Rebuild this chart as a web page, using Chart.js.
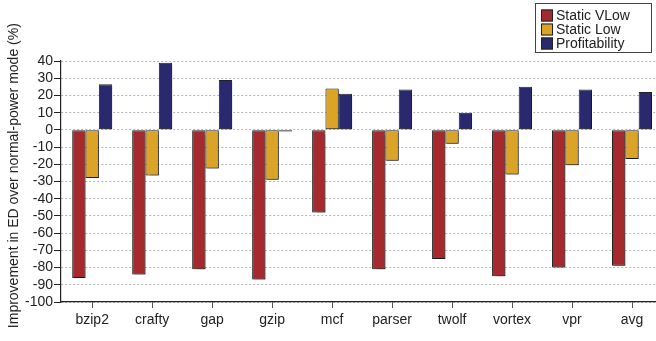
<!DOCTYPE html>
<html>
<head>
<meta charset="utf-8">
<script src="https://cdn.jsdelivr.net/npm/chart.js@4"></script>
<style>
  html, body { margin: 0; padding: 0; background: #fff; }
  canvas { display: block; }
</style>
</head>
<body>
<canvas id="c" width="656" height="341"></canvas>
<script>
// Benchmarks along the x axis
const categories = ['bzip2', 'crafty', 'gap', 'gzip', 'mcf', 'parser', 'twolf', 'vortex', 'vpr', 'avg'];

// Improvement in ED (%) per benchmark
const staticVLow     = [-86, -84, -81, -87, -48, -81, -75, -85, -80, -79];
const staticLow      = [-28, -26.5, -22.5, -29, 24, -18, -8, -26, -20.5, -17];
const profitability  = [26.5, 39, 29, -1, 21, 23.5, 10, 25, 23.5, 22];

const seriesNames  = ['Static VLow', 'Static Low', 'Profitability'];
const seriesColors = ['#a6292d', '#dba426', '#29296f'];

const yTicks = { min: -100, max: 40, step: 10 };

const FONT = '"Liberation Sans", Arial, Helvetica, sans-serif';

const toPoints = arr => arr.map((v, i) => ({ x: i, y: v }));

// soft drop shadow under the bars
const barShadow = {
  id: 'barShadow',
  beforeDatasetsDraw(chart) {
    const ctx = chart.ctx;
    ctx.save();
    ctx.shadowColor = 'rgba(0,0,0,0.35)';
    ctx.shadowOffsetX = 1.5;
    ctx.shadowOffsetY = 1.5;
    ctx.shadowBlur = 1;
  },
  afterDatasetsDraw(chart) {
    chart.ctx.restore();
  }
};

// boxed legend in the top-right corner
const boxLegend = {
  id: 'boxLegend',
  afterDraw(chart) {
    const ctx = chart.ctx;
    ctx.save();
    ctx.strokeStyle = '#444';
    ctx.lineWidth = 1;
    ctx.strokeRect(535.5, 3.5, 116, 49);
    ctx.font = '14px ' + FONT;
    ctx.textBaseline = 'middle';
    chart.data.datasets.forEach((ds, i) => {
      const cy = 15.5 + i * 14;
      ctx.fillStyle = ds.backgroundColor;
      ctx.fillRect(541, cy - 6, 12, 12);
      ctx.strokeStyle = '#222';
      ctx.strokeRect(541.5, cy - 5.5, 11, 11);
      ctx.fillStyle = '#222';
      ctx.fillText(ds.label, 556, cy + 0.5);
    });
    ctx.restore();
  }
};

const datasets = [staticVLow, staticLow, profitability].map((arr, i) => ({
  label: seriesNames[i],
  data: toPoints(arr),
  backgroundColor: seriesColors[i],
  borderColor: '#222',
  borderWidth: 1,
  borderSkipped: false,
  categoryPercentage: 0.667,
  barPercentage: 1.0
}));

new Chart(document.getElementById('c'), {
  type: 'bar',
  data: { datasets },
  plugins: [barShadow, boxLegend],
  options: {
    responsive: false,
    animation: false,
    devicePixelRatio: 1,
    layout: { padding: { top: 61, right: 0, bottom: 0, left: 0 } },
    plugins: {
      legend: { display: false },
      tooltip: { enabled: false }
    },
    scales: {
      x: {
        type: 'linear',
        offset: false,
        min: -0.52,
        max: 9.4,
        afterBuildTicks(scale) {
          scale.ticks = categories.map((_, i) => ({ value: i }));
        },
        afterFit(scale) { scale.height = 39; },
        ticks: {
          callback: v => categories[v],
          font: { family: FONT, size: 14 },
          color: '#222',
          padding: 4,
          maxRotation: 0,
          autoSkip: false
        },
        grid: {
          offset: false,
          drawOnChartArea: false,
          drawTicks: true,
          tickLength: 6,
          tickColor: '#555'
        },
        border: { color: '#222', width: 1.2 }
      },
      y: {
        min: yTicks.min,
        max: yTicks.max,
        afterFit(scale) { scale.width = 61; },
        ticks: {
          stepSize: yTicks.step,
          autoSkip: false,
          font: { family: FONT, size: 14 },
          color: '#222',
          padding: 1
        },
        grid: {
          color: '#b5b5b5',
          lineWidth: 1,
          drawTicks: true,
          tickLength: 7,
          tickColor: '#222',
          tickBorderDash: []
        },
        border: { color: '#222', width: 1.2, dash: [2, 2] },
        title: {
          display: true,
          text: '   Improvement in ED over normal-power mode (%)',
          font: { family: FONT, size: 14 },
          color: '#222',
          padding: { top: 6, bottom: 0 }
        }
      }
    }
  }
});
</script>
</body>
</html>
